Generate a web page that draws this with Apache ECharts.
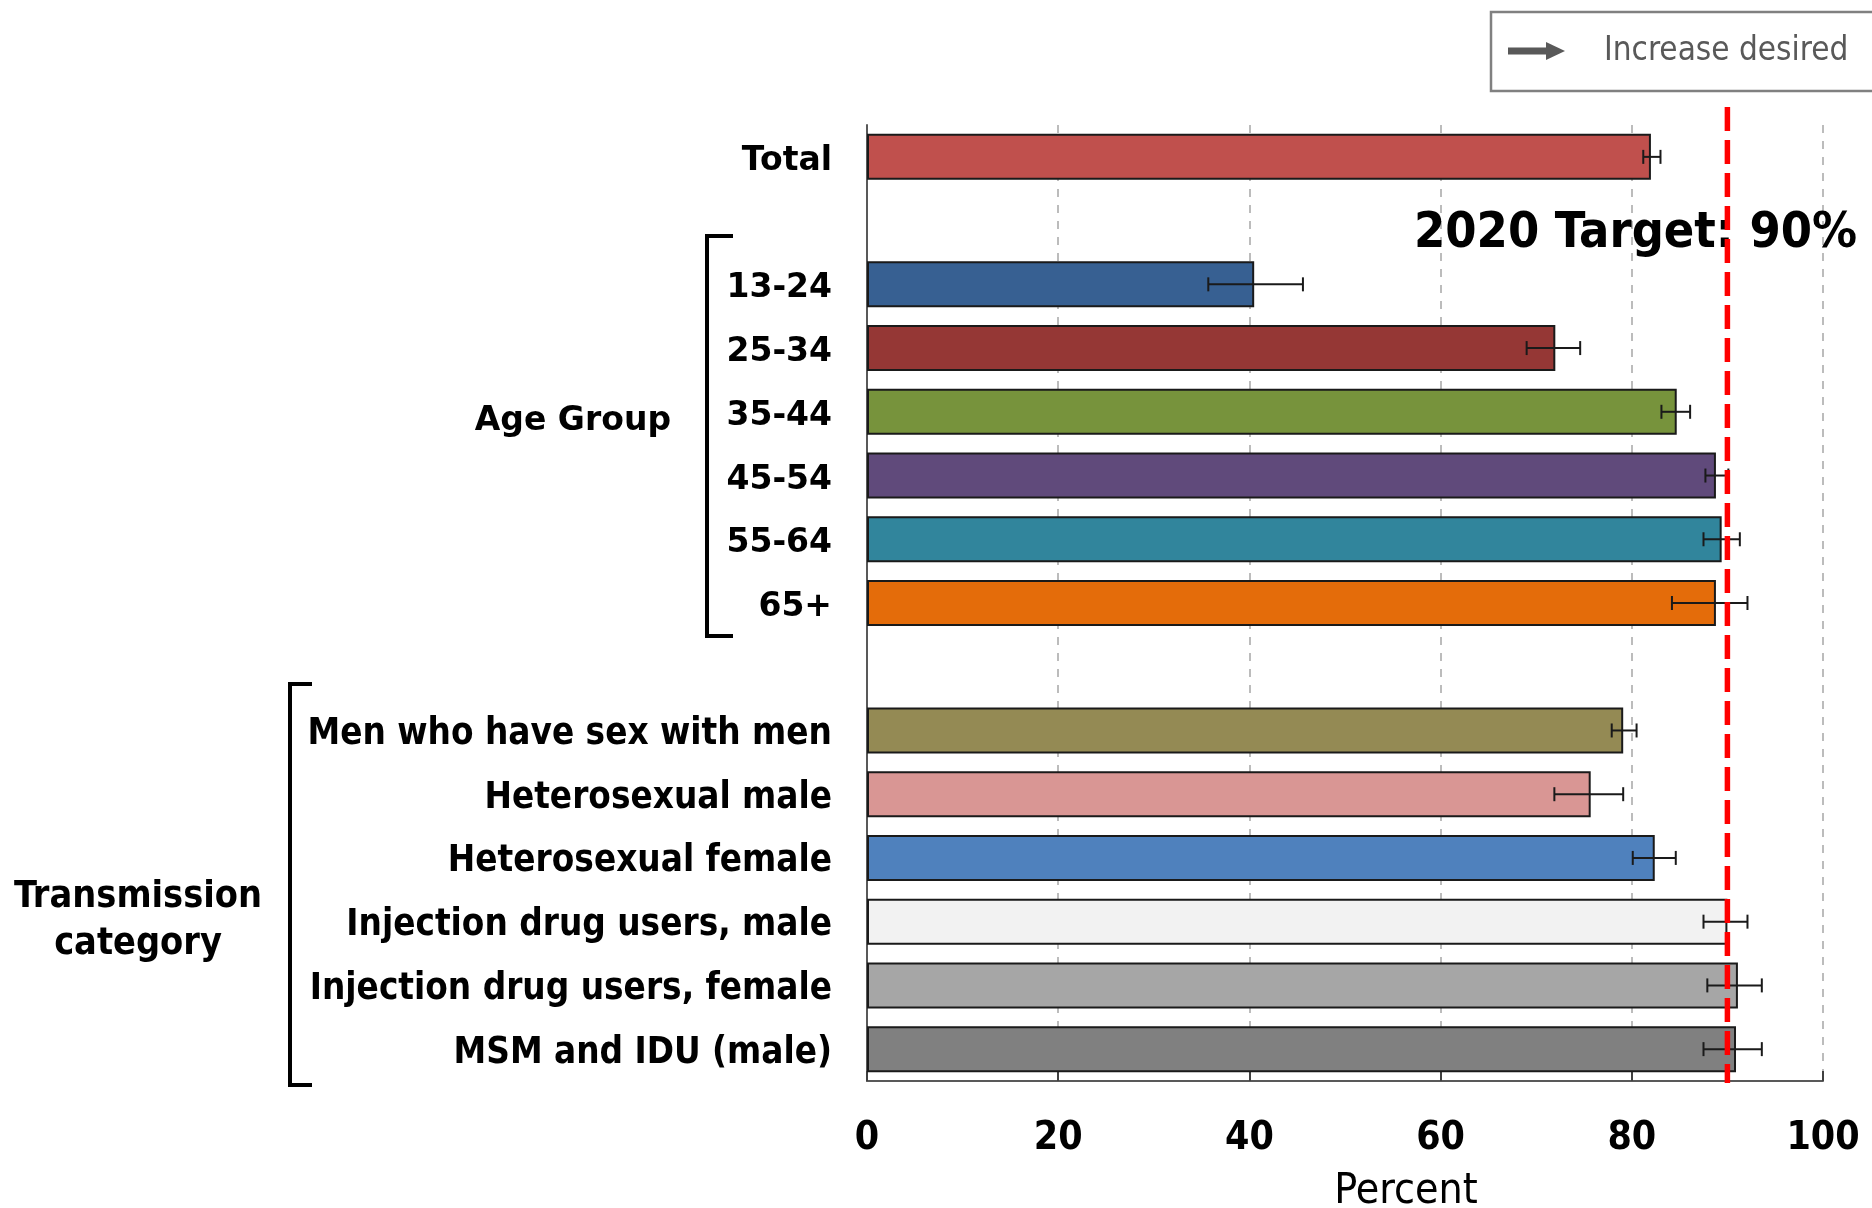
<!DOCTYPE html>
<html>
<head>
<meta charset="utf-8">
<script src="https://cdn.jsdelivr.net/npm/echarts@6/dist/echarts.min.js"></script>
<style>
html,body{margin:0;padding:0;background:#fff;}
#chart{width:1872px;height:1208px;}
</style>
</head>
<body>
<div id="chart"></div>
<script>
const categories = ['Total', '', '13-24', '25-34', '35-44', '45-54', '55-64', '65+', '',
  'Men who have sex with men', 'Heterosexual male', 'Heterosexual female',
  'Injection drug users, male', 'Injection drug users, female', 'MSM and IDU (male)'];
const values = [82.0, null, 40.5, 72.0, 84.7, 88.8, 89.4, 88.8, null, 79.1, 75.7, 82.4, 90.0, 91.1, 90.9];
const lower  = [81.2, null, 35.7, 69.0, 83.1, 87.7, 87.5, 84.2, null, 77.9, 71.9, 80.1, 87.5, 87.9, 87.5];
const upper  = [83.0, null, 45.6, 74.6, 86.1, 90.1, 91.3, 92.1, null, 80.5, 79.1, 84.6, 92.1, 93.6, 93.6];
const barColors = ['#C0504D', null, '#376092', '#953735', '#77933C', '#604A7B', '#31859C', '#E46C0A', null,
  '#948A54', '#D99694', '#4F81BD', '#F2F2F2', '#A6A6A6', '#808080'];
const xTicks = [0, 20, 40, 60, 80, 100];
const target = 90;
const firstTransmissionIndex = 9;

const FONT = 'DejaVu Sans';
const CFONT = '"DejaVu Sans Condensed", "DejaVu Sans"';
const chart = echarts.init(document.getElementById('chart'));

const barData = values.map((v, i) => v == null ? null : {
  value: v,
  itemStyle: { color: barColors[i] }
});
const errData = [];
values.forEach((v, i) => { if (v != null) errData.push([i, lower[i], upper[i]]); });

const option = {
  animation: false,
  backgroundColor: '#ffffff',
  grid: { left: 867, right: 49, top: 125, bottom: 127, containLabel: false },
  xAxis: {
    type: 'value', min: xTicks[0], max: xTicks[xTicks.length - 1], interval: 20,
    axisLine: { show: true, lineStyle: { color: '#595959', width: 2 } },
    axisTick: { show: true, inside: true, length: 10, lineStyle: { color: '#404040', width: 2 } },
    axisLabel: { margin: 38, fontFamily: CFONT, fontWeight: 'bold', fontSize: 39, color: '#000' },
    splitLine: { show: true, lineStyle: { color: '#a6a6a6', width: 1.5, type: [8, 8] } }
  },
  yAxis: {
    type: 'category', inverse: true, data: categories,
    axisLine: { show: true, lineStyle: { color: '#595959', width: 2 } },
    axisTick: { show: false },
    axisLabel: {
      margin: 35, color: '#000',
      formatter: function (v, i) { return i >= firstTransmissionIndex ? '{t|' + v + '}' : '{a|' + v + '}'; },
      rich: {
        a: { fontFamily: FONT, fontWeight: 'bold', fontSize: 33, color: '#000', padding: [9, 0, 0, 0] },
        t: { fontFamily: CFONT, fontWeight: 'bold', fontSize: 36.5, color: '#000', padding: [8, 0, 0, 0] }
      }
    },
    splitLine: { show: false }
  },
  series: [
    {
      type: 'bar', data: barData, barWidth: 46,
      itemStyle: { borderColor: '#1a1a1a', borderWidth: 2 },
      z: 2
    },
    {
      type: 'custom', data: errData, encode: { x: [1, 2], y: 0 }, z: 5,
      renderItem: function (params, api) {
        const c = api.value(0);
        const p1 = api.coord([api.value(1), c]);
        const p2 = api.coord([api.value(2), c]);
        const h = 7;
        const st = { stroke: '#1a1a1a', lineWidth: 2 };
        return { type: 'group', children: [
          { type: 'line', shape: { x1: p1[0], y1: p1[1], x2: p2[0], y2: p2[1] }, style: st },
          { type: 'line', shape: { x1: p1[0], y1: p1[1] - h, x2: p1[0], y2: p1[1] + h }, style: st },
          { type: 'line', shape: { x1: p2[0], y1: p2[1] - h, x2: p2[0], y2: p2[1] + h }, style: st }
        ]};
      }
    },
    {
      type: 'custom', data: [[target, 0]], encode: { x: 0, y: 1 }, z: 10, clip: false,
      renderItem: function (params, api) {
        const x = api.coord([api.value(0), 0])[0];
        const cs = params.coordSys;
        return { type: 'line', shape: { x1: x, y1: cs.y - 18, x2: x, y2: cs.y + cs.height + 2 },
          style: { stroke: '#ff0000', lineWidth: 5.5, lineDash: [24, 9] } };
      }
    }
  ],
  graphic: [
    { type: 'text', x: 1414, y: 234, z: 1,
      style: { text: '2020 Target: 90%', font: 'bold 50px ' + CFONT, fill: '#000', verticalAlign: 'middle' } },
    { type: 'text', x: 671, y: 421, z: 1,
      style: { text: 'Age Group', font: 'bold 33px "DejaVu Sans"', fill: '#000', align: 'right', verticalAlign: 'middle' } },
    { type: 'text', x: 138, y: 921, z: 1,
      style: { text: 'Transmission\ncategory', font: 'bold 37.5px ' + CFONT, fill: '#000', align: 'center', verticalAlign: 'middle', lineHeight: 47 } },
    { type: 'polyline', z: 1, shape: { points: [[733, 236], [707, 236], [707, 636], [733, 636]] },
      style: { stroke: '#000', lineWidth: 4, fill: null } },
    { type: 'polyline', z: 1, shape: { points: [[312, 684], [290, 684], [290, 1085], [312, 1085]] },
      style: { stroke: '#000', lineWidth: 4, fill: null } },
    { type: 'text', x: 1406, y: 1192, z: 1,
      style: { text: 'Percent', font: '42.5px ' + CFONT, fill: '#000', align: 'center', verticalAlign: 'middle' } },
    { type: 'rect', z: 1, shape: { x: 1491, y: 12, width: 420, height: 79 },
      style: { fill: '#fff', stroke: '#808080', lineWidth: 2.5 } },
    { type: 'line', z: 2, shape: { x1: 1508, y1: 51, x2: 1550, y2: 51 },
      style: { stroke: '#595959', lineWidth: 7 } },
    { type: 'polygon', z: 2, shape: { points: [[1546, 42], [1565, 51], [1546, 60]] },
      style: { fill: '#595959' } },
    { type: 'text', x: 1604, y: 51, z: 2,
      style: { text: 'Increase desired', font: '33px ' + CFONT, fill: '#595959', verticalAlign: 'middle' } }
  ]
};
chart.setOption(option);
</script>
</body>
</html>
